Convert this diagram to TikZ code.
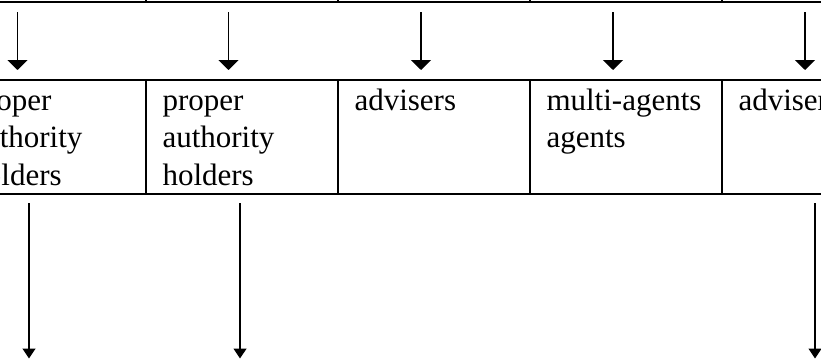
\documentclass[tikz,border=0pt]{standalone}
\usepackage{fontspec}
\setmainfont{Liberation Serif}
\usetikzlibrary{arrows.meta,calc}
\begin{document}
\begin{tikzpicture}[x=1pt,y=-1pt,
  cell/.style={draw,line width=1.8pt,minimum width=192pt,minimum height=114.3pt,inner sep=0pt,outer sep=0pt},
  toprow/.style={draw,line width=1.8pt,minimum width=192pt,minimum height=60pt,inner sep=0pt,outer sep=0pt},
  txt/.style={font=\fontsize{31}{37.5}\selectfont,align=left,inner sep=0pt,outer sep=0pt,anchor=north west},
  arr/.style={line width=1.3pt,-{Triangle[width=20pt,length=10pt]},shorten <=9.7pt,shorten >=10pt},
  arrb/.style={line width=1.3pt,-{Triangle[width=13pt,length=10pt]},shorten <=8.7pt}]
\useasboundingbox (0,0) rectangle (821,359);
% top row (cut off)
\node[toprow] (t1) at (50,-27.7) {};
\node[toprow] (t2) at (242,-27.7) {};
\node[toprow] (t3) at (434,-27.7) {};
\node[toprow] (t4) at (626,-27.7) {};
\node[toprow] (t5) at (818,-27.7) {};
% middle row
\node[cell] (c1) at (50,137.15) {};
\node[cell] (c2) at (242,137.15) {};
\node[cell] (c3) at (434,137.15) {};
\node[cell] (c4) at (626,137.15) {};
\node[cell] (c5) at (818,137.15) {};
% texts
\node[txt] (l1) at ($(c1.north west)+(16.5,3.75)$) {\strut proper\\authority\\holders};
\node[txt] (l2) at ($(c2.north west)+(16.5,3.75)$) {\strut proper\\authority\\holders};
\node[txt] (l3) at ($(c3.north west)+(16.5,3.75)$) {\strut advisers};
\node[txt] (l4) at ($(c4.north west)+(16.5,3.75)$) {\strut multi-agents\\agents};
\node[txt] (l5) at ($(c5.north west)+(16.5,3.75)$) {\strut advisers};
% upper arrows
\draw[arr] ([xshift=-32.5pt]t1.south) -- ([xshift=-32.5pt]c1.north);
\draw[arr] ([xshift=-13.5pt]t2.south) -- ([xshift=-13.5pt]c2.north);
\draw[arr] ([xshift=-13pt]t3.south) -- ([xshift=-13pt]c3.north);
\draw[arr] ([xshift=-13pt]t4.south) -- ([xshift=-13pt]c4.north);
\draw[arr] ([xshift=-13pt]t5.south) -- ([xshift=-13pt]c5.north);
% lower arrows
\coordinate (e1) at (29,358.5);
\coordinate (e2) at (240,358.5);
\coordinate (e3) at (815,358.5);
\draw[arrb] (c1.south -| e1) -- (e1);
\draw[arrb] (c2.south -| e2) -- (e2);
\draw[arrb] (c5.south -| e3) -- (e3);
\end{tikzpicture}
\end{document}
